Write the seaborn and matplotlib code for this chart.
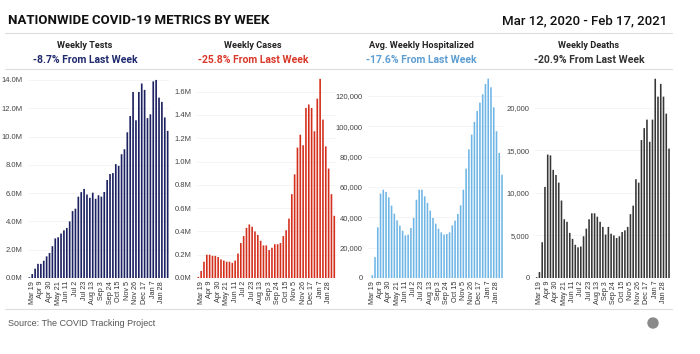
import seaborn as sns
import matplotlib.pyplot as plt
from matplotlib.lines import Line2D
from matplotlib.patches import Ellipse
from matplotlib.ticker import FuncFormatter

# weekly data, Mar 12 2020 - Feb 11 2021 (week start)
weeks = ["Mar 12", "Mar 19", "Mar 26", "Apr 2", "Apr 9", "Apr 16", "Apr 23", "Apr 30",
         "May 7", "May 14", "May 21", "May 28", "Jun 4", "Jun 11", "Jun 18", "Jun 25",
         "Jul 2", "Jul 9", "Jul 16", "Jul 23", "Jul 30", "Aug 6", "Aug 13", "Aug 20",
         "Aug 27", "Sep 3", "Sep 10", "Sep 17", "Sep 24", "Oct 1", "Oct 8", "Oct 15",
         "Oct 22", "Oct 29", "Nov 5", "Nov 12", "Nov 19", "Nov 26", "Dec 3", "Dec 10",
         "Dec 17", "Dec 24", "Dec 31", "Jan 7", "Jan 14", "Jan 21", "Jan 28", "Feb 4", "Feb 11"]

tests = [0.05, 0.28, 0.66, 1.0, 1.0, 1.22, 1.53, 1.77, 2.25, 2.8, 2.88, 3.14, 3.37, 3.54,
         4.0, 4.73, 4.9, 5.75, 6.07, 6.3, 5.9, 5.67, 6.03, 5.6, 5.85, 5.75, 6.08, 6.93,
         7.35, 7.42, 8.05, 7.93, 8.75, 9.1, 10.3, 11.45, 13.15, 11.15, 13.15, 13.75, 13.3,
         11.3, 11.57, 13.9, 14.0, 12.75, 12.45, 11.35, 10.4]  # millions

cases = [0.01, 0.06, 0.14, 0.20, 0.20, 0.19, 0.19, 0.18, 0.16, 0.15, 0.14, 0.14, 0.13,
         0.15, 0.21, 0.30, 0.36, 0.43, 0.46, 0.44, 0.40, 0.37, 0.32, 0.28, 0.28, 0.24,
         0.26, 0.29, 0.29, 0.30, 0.36, 0.41, 0.51, 0.72, 0.89, 1.12, 1.23, 1.14, 1.46,
         1.49, 1.46, 1.26, 1.54, 1.71, 1.36, 1.13, 0.94, 0.72, 0.534]  # millions

hospitalized = [0, 1800, 13800, 33400, 55600, 58200, 56700, 53200, 47700, 42400, 38000,
                34500, 31200, 28100, 28600, 33000, 39600, 51600, 58200, 58200, 53800,
                49500, 44400, 39600, 35800, 32500, 30100, 28600, 29000, 30100, 34700,
                37800, 42200, 47900, 58200, 72100, 84800, 94500, 102900, 110100, 115600,
                121100, 127900, 131400, 125700, 112500, 96700, 82400, 68100]

deaths = [100, 700, 4200, 10700, 14500, 14400, 12700, 12100, 11200, 9100, 6900, 6600,
          5300, 4600, 3900, 3600, 3700, 4900, 5800, 6900, 7600, 7600, 7200, 6600, 6000,
          5100, 6000, 5200, 5000, 4700, 4900, 5400, 5600, 6000, 7500, 8500, 11600, 11200,
          16200, 17600, 18600, 16000, 18600, 23400, 21300, 22800, 21300, 19300, 15200]

titles = ["Weekly Tests", "Weekly Cases", "Avg. Weekly Hospitalized", "Weekly Deaths"]
changes = ["-8.7% From Last Week", "-25.8% From Last Week",
           "-17.6% From Last Week", "-20.9% From Last Week"]

sns.set_theme(style="white")
plt.rcParams["font.family"] = ["Liberation Sans", "DejaVu Sans"]

W, H = 700, 354
fig = plt.figure(figsize=(7, 3.54), dpi=100)

panels = [
    (tests, "#1c2161", "#1f2a6e", 27.9, 141.2, 14.35, [0, 2, 4, 6, 8, 10, 12, 14],
     lambda v, p: f"{v:.1f}M"),
    (cases, "#d42f1d", "#d9392a", 196.9, 138.8, 1.743, [0, .2, .4, .6, .8, 1.0, 1.2, 1.4, 1.6],
     lambda v, p: f"{v:.1f}M"),
    (hospitalized, "#6fb6e6", "#5d9ed3", 368.1, 135.3, 133800,
     [0, 20000, 40000, 60000, 80000, 100000, 120000], lambda v, p: f"{v:,.0f}"),
    (deaths, "#363636", "#333333", 535.3, 135.1, 23840, [0, 5000, 10000, 15000, 20000],
     lambda v, p: f"{v:,.0f}"),
]

for i, (vals, col, tcol, left, width, ytop, yt, fmt) in enumerate(panels):
    ax = fig.add_axes([left / W, (H - 278) / H, width / W, 203 / H])
    sns.barplot(x=weeks, y=vals, color=col, width=0.58, saturation=1, ax=ax)
    for p in ax.patches:
        p.set_snap(False)
        p.set_linewidth(0)
    ax.set_xlim(-0.5, len(weeks) - 0.5)
    ax.set_ylim(0, ytop)
    ax.set_yticks(yt)
    ax.yaxis.set_major_formatter(FuncFormatter(fmt))
    ax.set_xticks(range(1, len(weeks), 3))
    ax.set_xticklabels(weeks[1::3], rotation=90, fontsize=5.2, color="#333333")
    ax.tick_params(axis="y", labelsize=5.5, labelcolor="#444444", length=0, pad=4)
    ax.tick_params(axis="x", length=0, pad=2)
    ax.grid(axis="y", color="#f2f2f2", linewidth=0.6)
    ax.set_axisbelow(True)
    sns.despine(ax=ax, left=True, bottom=True)
    ax.set_xlabel("")
    ax.set_ylabel("")

    cx = (85 + i * 168) / W
    fig.text(cx, 1 - 45 / H, titles[i], ha="center", va="center", fontsize=6.6,
             fontweight="bold", family="Roboto", color="#222222")
    fig.text(cx, 1 - 60 / H, changes[i], ha="center", va="center", fontsize=7.5,
             fontweight="bold", family="Roboto", color=tcol)

fig.text(8 / W, 1 - 21 / H, "NATIONWIDE COVID-19 METRICS BY WEEK", ha="left", va="center",
         fontsize=9.5, fontweight="bold", family="Roboto", color="#111111")
fig.text(667 / W, 1 - 21 / H, "Mar 12, 2020 - Feb 17, 2021", ha="right", va="center",
         fontsize=9.5, fontweight="medium", family="Roboto", color="#111111")

for y in [33, 69, 309]:
    fig.add_artist(Line2D([5 / W, 672 / W], [1 - y / H, 1 - y / H], color="#dddddd",
                          linewidth=0.8, transform=fig.transFigure))

fig.text(8 / W, 1 - 324 / H, "Source: The COVID Tracking Project", ha="left", va="center",
         fontsize=6.5, color="#555555")
fig.add_artist(Ellipse((653 / W, 1 - 323 / H), 10 / W, 10 / H, color="#8a8a8a",
                       transform=fig.transFigure))

plt.savefig("out.png", dpi=100)
plt.close()
